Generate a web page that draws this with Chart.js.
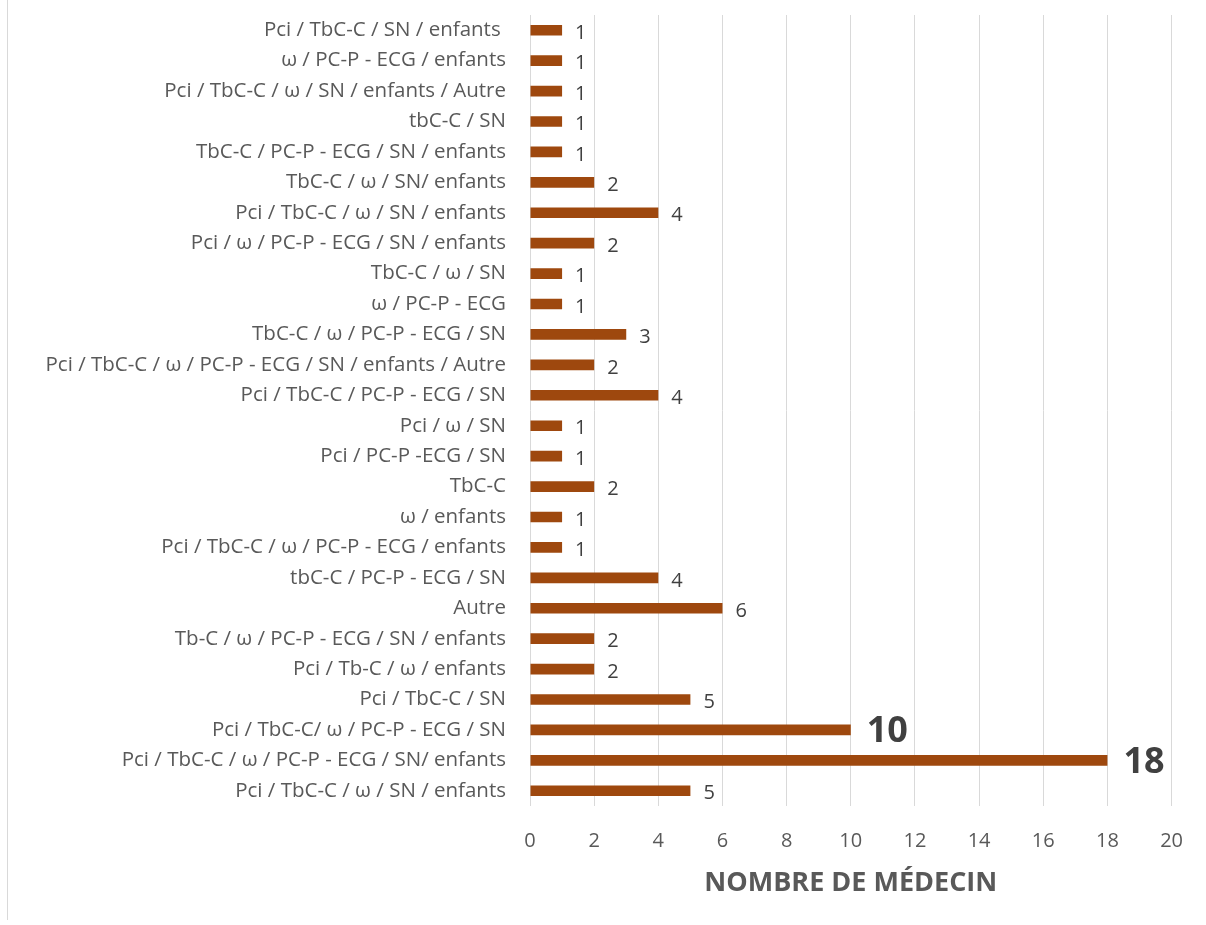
<html><head><meta charset="utf-8">
<script src="https://cdn.jsdelivr.net/npm/chart.js@4.4.0/dist/chart.umd.min.js"></script>
<style>
 body{margin:0;background:#fff;}
 #wrap{position:relative;width:1206px;height:925px;}
 #edge{position:absolute;left:7px;top:0;height:920px;border-left:1px solid #d9d9d9;}
 canvas{position:absolute;left:0;top:0;}
</style>
</head>
<body>
<div id="wrap"><div id="edge"></div><canvas id="myChart" width="1206" height="925"></canvas></div>
<script>
// categories, top to bottom as in the picture
var categories = [
  'Pci / TbC-C / SN / enfants ',
  'ω / PC-P - ECG / enfants',
  'Pci / TbC-C / ω / SN / enfants / Autre',
  'tbC-C / SN',
  'TbC-C / PC-P - ECG / SN / enfants',
  'TbC-C / ω / SN/ enfants',
  'Pci / TbC-C / ω / SN / enfants',
  'Pci / ω / PC-P - ECG / SN / enfants',
  'TbC-C / ω / SN',
  'ω / PC-P - ECG',
  'TbC-C / ω / PC-P - ECG / SN',
  'Pci / TbC-C / ω / PC-P - ECG / SN / enfants / Autre',
  'Pci / TbC-C / PC-P - ECG / SN',
  'Pci / ω / SN',
  'Pci / PC-P -ECG / SN',
  'TbC-C',
  'ω / enfants',
  'Pci / TbC-C / ω / PC-P - ECG / enfants',
  'tbC-C / PC-P - ECG / SN',
  'Autre',
  'Tb-C / ω / PC-P - ECG / SN / enfants',
  'Pci / Tb-C / ω / enfants',
  'Pci / TbC-C / SN',
  'Pci / TbC-C/ ω / PC-P - ECG / SN',
  'Pci / TbC-C / ω / PC-P - ECG / SN/ enfants',
  'Pci / TbC-C / ω / SN / enfants'
];
var counts = [1,1,1,1,1,2,4,2,1,1,3,2,4,1,1,2,1,1,4,6,2,2,5,10,18,5];
var highlighted = [10, 18];   // values whose labels are shown large and bold
var xMin = 0, xMax = 20, xStep = 2;
var xTitle = 'NOMBRE DE MÉDECIN';

var valueLabels = {
  id: 'valueLabels',
  afterDatasetsDraw: function(chart) {
    var ctx = chart.ctx;
    var meta = chart.getDatasetMeta(0);
    ctx.save();
    ctx.fillStyle = '#404040';
    ctx.textAlign = 'left';
    ctx.textBaseline = 'middle';
    meta.data.forEach(function(bar, i) {
      var v = counts[i];
      var big = highlighted.indexOf(v) >= 0;
      ctx.font = big ? 'bold 36px "Open Sans"' : '20px "Open Sans"';
      ctx.fillText(String(v), bar.x + (big ? 16 : 13), bar.y + (big ? 2 : 3));
    });
    ctx.restore();
  }
};

var ctx = document.getElementById('myChart');
var myChart = new Chart(ctx, {
  type: 'bar',
  data: {
    labels: categories,
    datasets: [{
      data: counts,
      backgroundColor: '#9E480E',
      categoryPercentage: 1,
      barPercentage: 0.35
    }]
  },
  options: {
    indexAxis: 'y',
    responsive: false,
    animation: false,
    layout: { padding: { top: 15, right: 31, left: 0, bottom: 0 } },
    plugins: { legend: { display: false }, tooltip: { enabled: false } },
    scales: {
      x: {
        min: xMin, max: xMax,
        ticks: { stepSize: xStep, color: '#595959', padding: 23, font: { family: 'Open Sans', size: 20 } },
        grid: { color: '#d9d9d9', drawTicks: false },
        border: { display: false },
        title: { display: true, text: xTitle, color: '#595959',
                 font: { family: 'Open Sans', size: 27, weight: 'bold' }, padding: { top: 0, bottom: 25 } },
        afterFit: function(s) { s.height = 119; }
      },
      y: {
        ticks: { color: '#595959', padding: 24, autoSkip: false, font: { family: 'Open Sans', size: 20.5 } },
        grid: { display: false, drawTicks: false },
        border: { display: false },
        afterFit: function(s) { s.width = 530; s.paddingTop = 0; s.paddingBottom = 0; }
      }
    }
  },
  plugins: [valueLabels]
});
</script>
</body></html>
